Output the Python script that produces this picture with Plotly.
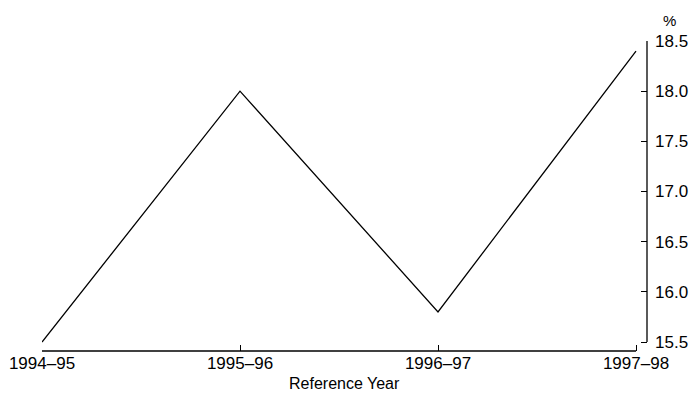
import plotly.graph_objects as go

categories = ["1994–95", "1995–96", "1996–97", "1997–98"]
values = [15.5, 18.0, 15.8, 18.4]
y_ticks = [15.5, 16.0, 16.5, 17.0, 17.5, 18.0, 18.5]
y_tick_labels = ["15.5", "16.0", "16.5", "17.0", "17.5", "18.0", "18.5"]

xpos = list(range(len(categories)))
FONT = "Liberation Sans, Arial, sans-serif"

fig = go.Figure()
fig.add_trace(go.Scatter(x=xpos, y=values, mode="lines",
                         line=dict(color="black", width=1.3), hoverinfo="skip"))

fig.update_layout(
    width=690, height=391,
    margin=dict(l=34, r=51, t=33, b=48),
    paper_bgcolor="white", plot_bgcolor="white",
    showlegend=False,
    font=dict(family=FONT, color="black", size=17),
    xaxis=dict(range=[0, 3 * 605 / 594], tickmode="array", tickvals=xpos,
               ticktext=categories, ticks="inside", ticklen=6, tickwidth=1.3,
               tickcolor="black", showgrid=False, zeroline=False, showline=False,
               tickfont=dict(size=17), automargin=False),
    yaxis=dict(range=[15.5 - 9 / 100.33, 18.5], side="right", tickmode="array",
               tickvals=y_ticks, ticktext=y_tick_labels, ticks="inside", ticklen=6,
               tickwidth=1.3, tickcolor="black", showgrid=False, zeroline=False,
               showline=False, tickfont=dict(size=17), automargin=False,
               ticklabelstandoff=7),
    shapes=[
        dict(type="line", xref="x", yref="paper", x0=0, x1=3, y0=0, y1=0,
             line=dict(color="black", width=1.3)),
        dict(type="line", xref="paper", yref="y", x0=1, x1=1, y0=15.5, y1=18.5,
             line=dict(color="black", width=1.3)),
    ],
    annotations=[
        dict(text="%", xref="paper", yref="paper", x=1.0, y=1.0, yshift=21,
             xanchor="center", yanchor="middle", showarrow=False,
             xshift=22, font=dict(size=15)),
        dict(text="Reference Year", xref="paper", yref="paper", x=0.5, y=0,
             yshift=-22, xanchor="center", yanchor="top", showarrow=False,
             font=dict(size=16)),
    ],
)

fig.write_html("out.html")
